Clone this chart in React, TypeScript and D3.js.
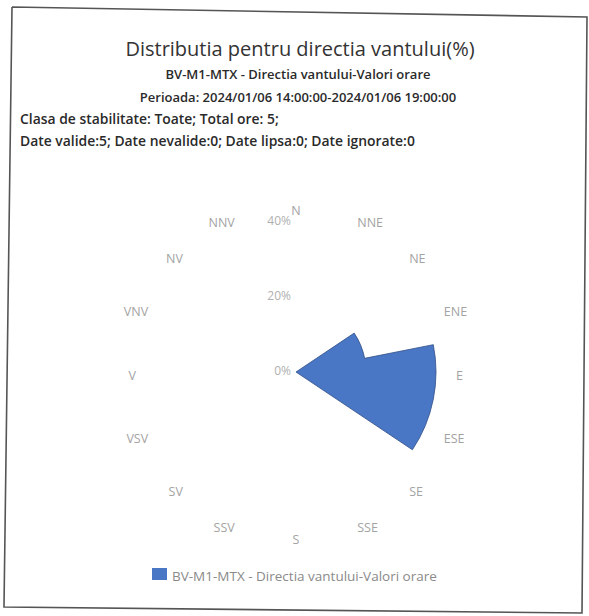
import React from "react";
import * as d3 from "d3";

const directions = ["N", "NNE", "NE", "ENE", "E", "ESE", "SE", "SSE", "S", "SSV", "SV", "VSV", "V", "VNV", "NV", "NNV"];
const frequencies = [0, 0, 0, 20, 40, 40, 0, 0, 0, 0, 0, 0, 0, 0, 0, 0];
const radialTicks = [0, 20, 40];
const titleText = "Distributia pentru directia vantului(%)";
const subtitleLines = [
  "BV-M1-MTX - Directia vantului-Valori orare",
  "Perioada: 2024/01/06 14:00:00-2024/01/06 19:00:00",
];
const infoLines = [
  "Clasa de stabilitate: Toate; Total ore: 5;",
  "Date valide:5; Date nevalide:0; Date lipsa:0; Date ignorate:0",
];
const seriesName = "BV-M1-MTX - Directia vantului-Valori orare";

const FONT = "'Open Sans', 'Noto Sans', sans-serif";
const BLUE = "#4a76c6";

export default function App() {
  const W = 589;
  const H = 616;
  const cx = 296;
  const cy = 372;
  const r = d3.scaleLinear().domain([0, 40]).range([0, 140]);
  const n = directions.length;
  const step = (2 * Math.PI) / n;
  const labelR = 160;

  // polar point (angle clockwise from north)
  const pt = (rad: number, a: number) => [rad * Math.sin(a), -rad * Math.cos(a)];

  // one combined outline for all sectors
  let shape = "M0,0";
  frequencies.forEach((v, i) => {
    const rv = r(v);
    const a0 = i * step - step / 2;
    const a1 = i * step + step / 2;
    const [x0, y0] = pt(rv, a0);
    const [x1, y1] = pt(rv, a1);
    shape += `L${x0},${y0}`;
    if (rv > 0) shape += `A${rv},${rv} 0 0 1 ${x1},${y1}`;
  });
  shape += "Z";

  const frame = d3.line()([
    [12, 7],
    [587, 17],
    [582, 613],
    [4, 607],
    [12, 7],
  ]);

  return (
    <svg width={W} height={H} style={{ position: "absolute", left: 0, top: 0, background: "#fff" }} fontFamily={FONT}>
      <rect x={0} y={0} width={W} height={H} fill="#fff" />
      <path d={frame || ""} fill="none" stroke="#555" strokeWidth={1.6} />

      <text x={300} y={48} textAnchor="middle" dominantBaseline="central" fontSize={20} fill="#333">
        {titleText}
      </text>
      {subtitleLines.map((t, i) => (
        <text key={t} x={298} y={74 + i * 23} textAnchor="middle" dominantBaseline="central" fontSize={13} fontWeight={600} fill="#2a2a2a">
          {t}
        </text>
      ))}
      {infoLines.map((t, i) => (
        <text key={t} x={20} y={118 + i * 22} textAnchor="start" dominantBaseline="central" fontSize={13.9} fontWeight={600} fill="#2a2a2a">
          {t}
        </text>
      ))}

      <g transform={`translate(${cx},${cy})`}>
        <path d={shape} fill={BLUE} stroke="#2f4f86" strokeWidth={0.8} strokeLinejoin="miter" />
      </g>

      {radialTicks.map((t) => (
        <text
          key={t}
          x={cx - 5}
          y={cy - r(t) * 1.07 - 2}
          textAnchor="end"
          dominantBaseline="central"
          fontSize={12}
          fill="#b0b0b0"
        >
          {t}%
        </text>
      ))}

      {directions.map((d, i) => {
        const a = i * step;
        const s = Math.sin(a);
        const c = Math.cos(a);
        const x = cx + labelR * s;
        const y = cy - labelR * c * 1.03 + 3;
        const anchor = Math.abs(s) < 0.2 ? "middle" : s > 0 ? "start" : "end";
        return (
          <text key={d} x={x} y={y} textAnchor={anchor} dominantBaseline="central" fontSize={12.5} fill="#a3a3a3">
            {d}
          </text>
        );
      })}

      <rect x={152} y={568} width={15} height={12} fill={BLUE} />
      <text x={172} y={576} dominantBaseline="central" fontSize={13.5} fill="#8a8a8a">
        {seriesName}
      </text>
    </svg>
  );
}
